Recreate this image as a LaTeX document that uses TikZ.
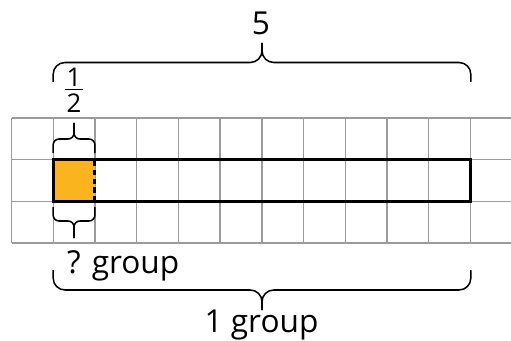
\documentclass[tikz,border=0pt]{standalone}
\usepackage{fontspec}
\setmainfont{Open Sans}
\usetikzlibrary{positioning}
\definecolor{halfcell}{RGB}{249,180,30}
\definecolor{gridgray}{RGB}{155,155,155}
\newlength{\barwidth}
\setlength{\barwidth}{2.5pt}
\begin{document}
\begin{tikzpicture}[x=0.03cm,y=-0.03cm]
  \tikzstyle{gridline}=[gridgray,line width=1.2pt]
  \tikzstyle{barline}=[black,line width=\barwidth]
  \tikzstyle{bracket}=[black,line width=1.3pt,line join=round]
  \tikzstyle{bigtext}=[font=\fontsize{27}{32}\selectfont,inner sep=0pt,anchor=base]
  \tikzstyle{fractext}=[font=\fontsize{22}{26}\selectfont,inner sep=0pt,anchor=base]
  \useasboundingbox (0,0) rectangle (511,341);
  % grid of cells
  \foreach \i in {0,...,11}
    \draw[gridline] (11.5+41.72*\i,118) -- (11.5+41.72*\i,243.2);
  \foreach \j in {0,...,3}
    \draw[gridline] (11.5,118+41.72*\j) -- (511,118+41.72*\j);
  \coordinate (bar nw) at (53.2,159.7);
  \coordinate (half se) at (94.9,201.4);
  \coordinate (bar se) at (470.8,201.4);
  \fill[halfcell] (bar nw) rectangle (half se);
  \draw[barline,dash pattern=on 4.5pt off 3pt] (half se) -- (half se |- bar nw);
  \draw[barline] (bar nw) rectangle (bar se);
  % braces
  \draw[bracket,rounded corners=10pt] (53.2,82) |- (262,62.5) -- (262,43);
  \draw[bracket,rounded corners=10pt] (470.8,82) |- (262,62.5) -- (262,43);
  \draw[bracket,rounded corners=5pt] (53.2,153) |- (74,139) -- (74,123);
  \draw[bracket,rounded corners=5pt] (94.9,153) |- (74,139) -- (74,123);
  \draw[bracket,rounded corners=5pt] (53.2,207) |- (74,221) -- (74,238);
  \draw[bracket,rounded corners=5pt] (94.9,207) |- (74,221) -- (74,238);
  \draw[bracket,rounded corners=10pt] (53.2,270) |- (262,290) -- (262,310);
  \draw[bracket,rounded corners=10pt] (470.8,270) |- (262,290) -- (262,310);
  % labels
  \node[bigtext] (five) at (261,35) {5};
  \node[fractext] (half num) at (74,87) {1};
  \node[fractext] (half den) at (74,112.5) {2};
  \draw[line width=1.6pt] (65,89.5) -- (83,89.5);
  \node[bigtext,anchor=base west] (part group) at (67,273) {? group};
  \node[bigtext] (one group) at (261.5,332) {1 group};
\end{tikzpicture}
\end{document}
